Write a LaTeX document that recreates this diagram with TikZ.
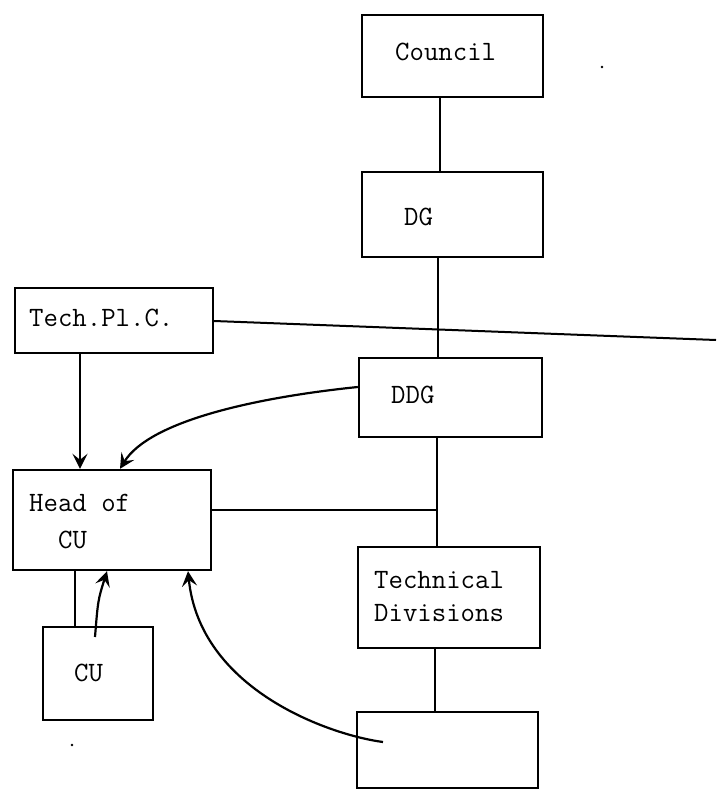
\documentclass[tikz,border=0pt]{standalone}
\usetikzlibrary{arrows.meta}
\begin{document}
\begin{tikzpicture}[x=1pt,y=-1pt,
  box/.style={draw,line width=2.4pt,inner sep=0pt,rectangle},
  lbl/.style={inner sep=0pt,anchor=west,font=\ttfamily\fontsize{28}{30}\selectfont},
  conn/.style={line width=2pt},
  arr/.style={line width=2.2pt,-{Stealth[length=15pt,width=15pt,inset=6pt]}}]
\useasboundingbox[fill=white] (0,0) rectangle (716,789);
% boxes
\node[box,minimum width=181pt,minimum height=82pt] (council) at (452.5,56) {};
\node[box,minimum width=181pt,minimum height=85pt] (dg) at (452.5,214.5) {};
\node[box,minimum width=183pt,minimum height=79pt] (ddg) at (450.5,397.5) {};
\node[box,minimum width=182pt,minimum height=101pt] (td) at (449,597.5) {};
\node[box,minimum width=181pt,minimum height=76pt] (bottom) at (447.5,750) {};
\node[box,minimum width=198pt,minimum height=65pt] (techpl) at (114,320.5) {};
\node[box,minimum width=198pt,minimum height=100pt] (head) at (112,520) {};
\node[box,minimum width=110pt,minimum height=93pt] (cu) at (98,673.5) {};
% texts
\node[lbl] (councilt) at (395,52) {Council};
\node[lbl] (dgt) at (404,217) {DG};
\node[lbl] (ddgt) at (391,395) {DDG};
\node[lbl] (tdt1) at (374,580) {Technical};
\node[lbl] (tdt2) at (374,613) {Divisions};
\node[lbl] (techt) at (29,318) {Tech.Pl.C.};
\node[lbl] (headt1) at (29,503) {Head of};
\node[lbl] (headt2) at (58,540) {CU};
\node[lbl] (cut) at (74,673) {CU};
% coordinates
\coordinate (rightend) at (716,340);
\coordinate (junc) at (437,510);
\coordinate (cuin) at (95,637);
\coordinate (botin) at (383,742);
% connectors
\draw[conn] ([xshift=-12.5pt]council.south) -- ([xshift=-12.5pt]dg.north);
\draw[conn] ([xshift=-14.5pt]dg.south) -- ([xshift=-12.5pt]ddg.north);
\draw[conn] ([yshift=-0.5pt]techpl.east) -- (rightend);
\draw[conn] ([xshift=-13.5pt]ddg.south) -- ([xshift=-12pt]td.north);
\draw[conn] ([yshift=10pt]head.east) -- (junc);
\draw[conn] ([xshift=-14pt]td.south) -- ([xshift=-12.5pt]bottom.north);
\draw[conn] ([xshift=-23pt]cu.north) -- ([xshift=-37pt]head.south);
\draw[arr] ([xshift=-34pt]techpl.south) -- ([xshift=-32pt]head.north);
\draw[arr] ([yshift=10.5pt]ddg.west) .. controls (260,397) and (150,420) .. ([xshift=8pt]head.north);
\draw[arr] (cuin) .. controls (98,600) .. ([xshift=-5pt]head.south);
\draw[arr] (botin) .. controls (330,735) and (200,690) .. ([xshift=76pt]head.south);
% specks
\fill (602,67) circle (1.3pt);
\fill (72,745) circle (1.3pt);
\end{tikzpicture}
\end{document}
